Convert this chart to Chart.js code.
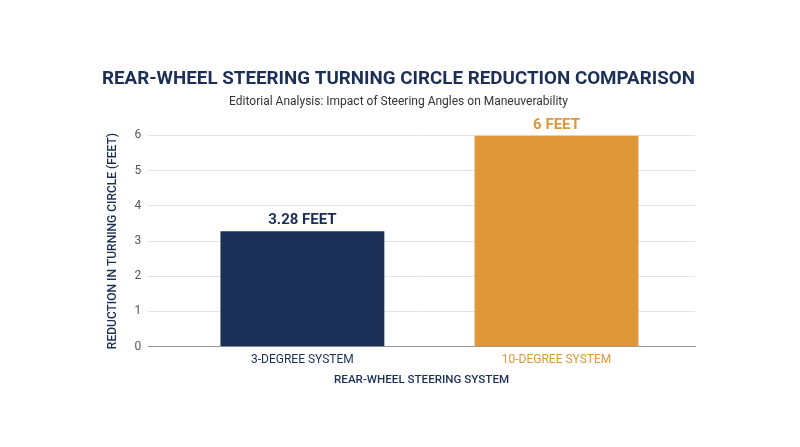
<!DOCTYPE html>
<html>
<head>
<meta charset="utf-8">
<script src="https://cdn.jsdelivr.net/npm/chart.js@4"></script>
<style>
  html, body { margin: 0; padding: 0; background: #fff; }
  #wrap { width: 800px; height: 447px; }
</style>
</head>
<body>
<div id="wrap"><canvas id="myChart"></canvas></div>
<script>
const categories = ['3-DEGREE SYSTEM', '10-DEGREE SYSTEM'];
const reductionFeet = [3.28, 6];
const valueLabels = ['3.28 FEET', '6 FEET'];
const yTicks = [0, 1, 2, 3, 4, 5, 6];

const NAVY = '#1b2f57';
const ORANGE = '#e0973a';
const barColors = [NAVY, ORANGE];

// x runs on a linear scale so the bars can sit off-centre like in the original
const xMin = -0.607;
const xMax = 1.545;

// draws the "x FEET" text above each bar
const valueLabelPlugin = {
  id: 'valueLabels',
  afterDatasetsDraw(chart) {
    const ctx = chart.ctx;
    const meta = chart.getDatasetMeta(0);
    ctx.save();
    ctx.font = 'bold 15px Roboto';
    ctx.textAlign = 'center';
    ctx.textBaseline = 'bottom';
    meta.data.forEach((bar, i) => {
      ctx.fillStyle = barColors[i];
      ctx.fillText(valueLabels[i], bar.x, bar.y - 3);
    });
    ctx.restore();
  }
};

const chart = new Chart(document.getElementById('myChart'), {
  type: 'bar',
  data: {
    datasets: [{
      data: reductionFeet.map((v, i) => ({ x: i, y: v })),
      backgroundColor: barColors,
      borderWidth: 0,
      barPercentage: 0.645,
      categoryPercentage: 1
    }]
  },
  options: {
    responsive: true,
    maintainAspectRatio: false,
    animation: false,
    layout: {
      padding: { left: 102, right: 105, top: 68, bottom: 56 }
    },
    plugins: {
      legend: { display: false },
      tooltip: { enabled: false },
      title: {
        display: true,
        text: 'REAR-WHEEL STEERING TURNING CIRCLE REDUCTION COMPARISON',
        color: NAVY,
        font: { family: 'Roboto', size: 19.2, weight: 'bold' },
        padding: { top: 0, bottom: 4 }
      },
      subtitle: {
        display: true,
        text: 'Editorial Analysis: Impact of Steering Angles on Maneuverability',
        color: '#333',
        font: { family: 'Roboto', size: 12 },
        padding: { top: 0, bottom: 26 }
      }
    },
    scales: {
      x: {
        type: 'linear',
        offset: false,
        min: xMin,
        max: xMax,
        afterBuildTicks: (axis) => {
          axis.ticks = categories.map((c, i) => ({ value: i }));
        },
        grid: { display: false, drawTicks: false },
        border: { display: true, color: '#999' },
        ticks: {
          autoSkip: false,
          maxRotation: 0,
          callback: (value) => categories[value],
          color: (ctx) => barColors[ctx.index],
          font: { family: 'Roboto', size: 12 },
          padding: 6
        },
        title: {
          display: true,
          text: 'REAR-WHEEL STEERING SYSTEM',
          color: NAVY,
          font: { family: 'Roboto', size: 11.6, weight: '500' },
          padding: { top: 0 }
        }
      },
      y: {
        min: 0,
        max: 6,
        afterBuildTicks: (axis) => {
          axis.ticks = yTicks.map(v => ({ value: v }));
        },
        grid: { color: '#e3e3e3', drawTicks: false },
        border: { display: false },
        ticks: {
          color: '#555',
          font: { family: 'Roboto', size: 12 },
          padding: 7
        },
        title: {
          display: true,
          text: 'REDUCTION IN TURNING CIRCLE (FEET)',
          color: NAVY,
          font: { family: 'Roboto', size: 12, weight: '500' },
          padding: { bottom: 7 }
        }
      }
    }
  },
  plugins: [valueLabelPlugin]
});
</script>
</body>
</html>
